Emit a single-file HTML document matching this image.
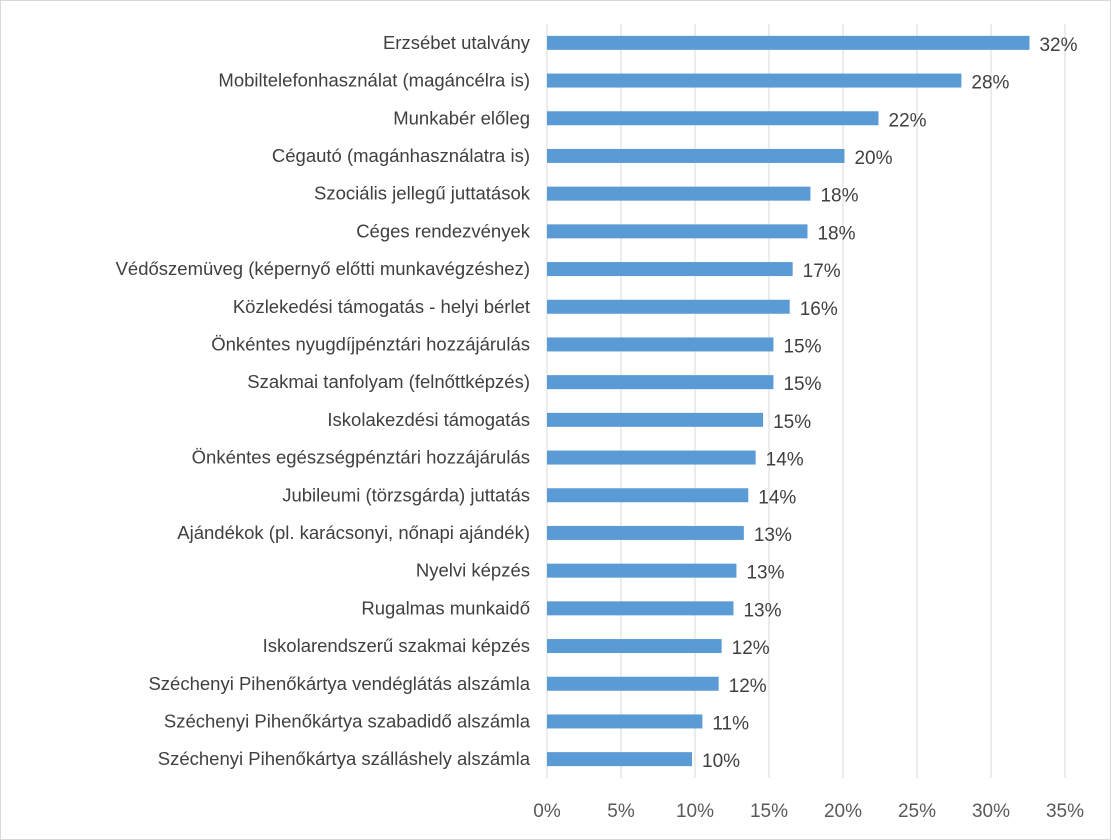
<!DOCTYPE html>
<html><head><meta charset="utf-8"><style>
body{margin:0;background:#fff}
svg{display:block;font-family:"Liberation Sans","DejaVu Sans",sans-serif}
</style></head><body>
<svg width="1111" height="840">
<rect x="0.5" y="0.5" width="1110" height="839" fill="#fff" stroke="#d9d9d9"/>
<g id="grid"></g><g id="bars"></g><g id="labels"></g><g id="ticks"></g>
</svg>
<script>
const categories=["Erzsébet utalvány","Mobiltelefonhasználat (magáncélra is)","Munkabér előleg","Cégautó (magánhasználatra is)","Szociális jellegű juttatások","Céges rendezvények","Védőszemüveg (képernyő előtti munkavégzéshez)","Közlekedési támogatás - helyi bérlet","Önkéntes nyugdíjpénztári hozzájárulás","Szakmai tanfolyam (felnőttképzés)","Iskolakezdési támogatás","Önkéntes egészségpénztári hozzájárulás","Jubileumi (törzsgárda) juttatás","Ajándékok (pl. karácsonyi, nőnapi ajándék)","Nyelvi képzés","Rugalmas munkaidő","Iskolarendszerű szakmai képzés","Széchenyi Pihenőkártya vendéglátás alszámla","Széchenyi Pihenőkártya szabadidő alszámla","Széchenyi Pihenőkártya szálláshely alszámla"];
const values=[32.6,28.0,22.4,20.1,17.8,17.6,16.6,16.4,15.3,15.3,14.6,14.1,13.6,13.3,12.8,12.6,11.8,11.6,10.5,9.8];
const valueLabels=["32%","28%","22%","20%","18%","18%","17%","16%","15%","15%","15%","14%","14%","13%","13%","13%","12%","12%","11%","10%"];
const tickValues=[0,5,10,15,20,25,30,35];
const tickLabels=["0%","5%","10%","15%","20%","25%","30%","35%"];
const NS="http://www.w3.org/2000/svg";
const x0=547,x1=1065,xMax=35,yTop=24,yBottom=778;
const xs=v=>x0+(v/xMax)*(x1-x0);
const step=(yBottom-yTop)/categories.length;
const yc=i=>yTop+step*(i+0.5);
function mk(t,a,p){const e=document.createElementNS(NS,t);for(const k in a)e.setAttribute(k,a[k]);p.appendChild(e);return e;}
const G=document.getElementById('grid'),B=document.getElementById('bars'),L=document.getElementById('labels'),T=document.getElementById('ticks');
tickValues.forEach((v,i)=>{
 const l=mk('line',{x1:xs(v),x2:xs(v),y1:yTop,y2:yBottom,stroke:'#d9d9d9','stroke-width':1},G);
 
 
 const t=mk('text',{x:xs(v),y:817,'text-anchor':'middle','font-size':19,fill:'#595959'},T);
 t.textContent=tickLabels[i];
 
 
});
categories.forEach((c,i)=>{
 const y=yc(i);
 const r=mk('rect',{x:x0,y:y-7,width:xs(values[i])-x0,height:14,fill:'#5b9bd5'},B);
 
 
 const t=mk('text',{x:530,y:y+6,'text-anchor':'end','font-size':18.5,fill:'#404040'},L);
 t.textContent=c;
 
 
 const v=mk('text',{x:xs(values[i])+10,y:y+8,'font-size':19,fill:'#404040'},L);
 v.textContent=valueLabels[i];
 
 
});
</script>
</body></html>
